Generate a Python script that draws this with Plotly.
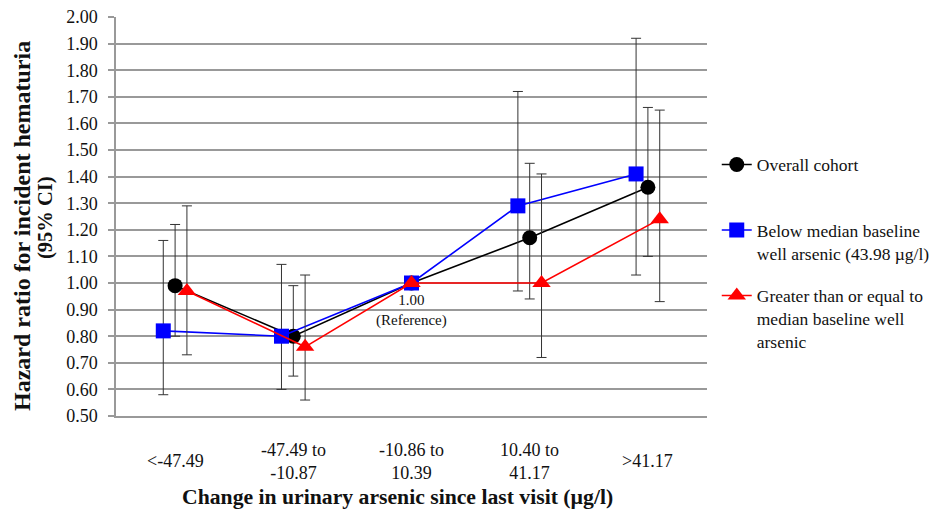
import plotly.graph_objects as go

categories = ["<-47.49", "-47.49 to<br>-10.87", "-10.86 to<br>10.39", "10.40 to<br>41.17", ">41.17"]

overall_hr = [0.99, 0.80, 1.00, 1.17, 1.36]
overall_lo = [0.80, 0.65, None, 0.94, 1.10]
overall_hi = [1.22, 0.99, None, 1.45, 1.66]

below_hr = [0.82, 0.80, 1.00, 1.29, 1.41]
below_lo = [0.58, 0.60, None, 0.97, 1.03]
below_hi = [1.16, 1.07, None, 1.72, 1.92]

above_hr = [0.97, 0.76, 1.00, 1.00, 1.24]
above_lo = [0.73, 0.56, None, 0.72, 0.93]
above_hi = [1.29, 1.03, None, 1.41, 1.65]

series_names = [
    "Overall cohort<br>\u00a0",
    "Below median baseline<br>well arsenic (43.98 µg/l)",
    "Greater than or equal to<br>median baseline well<br>arsenic",
]

x_title = "Change in urinary arsenic since last visit (µg/l)"
y_title_lines = ["Hazard ratio for incident hematuria", "(95% CI)"]

yticks = [round(0.5 + 0.1 * i, 2) for i in range(16)]

FONT = "Liberation Serif, Times New Roman, serif"
TXT = "#111111"

# figure geometry (page body adds an 8px offset)
W, H = 925, 501
L, R, T, B = 108, 226, 9, 93
PW, PH = W - L - R, H - T - B
OFF = 8

def px_x(sx):
    return (sx - OFF - L) / PW

def px_y(sy):
    return 1 - (sy - OFF - T) / PH

fig = go.Figure()

def add_series(name, hr, lo, hi, color, symbol, size, offset, group):
    xs = [i + (offset if lo[i] is not None else 0) for i in range(len(hr))]
    plus = [(hi[i] - hr[i]) if hi[i] is not None else 0 for i in range(len(hr))]
    minus = [(hr[i] - lo[i]) if lo[i] is not None else 0 for i in range(len(hr))]
    fig.add_trace(go.Scatter(
        x=xs, y=hr, name=name, mode="lines+markers", legendgroup=group,
        line=dict(color=color, width=1.6),
        marker=dict(color=color, symbol=symbol, size=size),
        error_y=dict(type="data", symmetric=False, array=plus, arrayminus=minus,
                     color="#333333", thickness=1, width=5),
    ))

add_series(series_names[0], overall_hr, overall_lo, overall_hi, "black", "circle", 15, 0.0, "g0")
add_series(series_names[1], below_hr, below_lo, below_hi, "#0000ff", "square", 15, -0.1, "g1")
add_series(series_names[2], above_hr, above_lo, above_hi, "#ff0000", "triangle-up", 16, 0.1, "g2")

# category labels (vertically centred like the original)
for i, c in enumerate(categories):
    fig.add_annotation(x=i, xref="x", y=0.5, yref="y", yshift=-45, text=c,
                       showarrow=False, font=dict(family=FONT, size=18, color=TXT),
                       xanchor="center", yanchor="middle")

fig.add_annotation(x=2, xref="x", y=1.00, yref="y", text="1.00<br>(Reference)",
                   showarrow=False, yanchor="top", yshift=-7,
                   font=dict(family=FONT, size=15, color=TXT))

# axis titles
fig.add_annotation(x=px_x(397.5), y=px_y(497), xref="paper", yref="paper",
                   text=f"<b>{x_title}</b>", showarrow=False,
                   xanchor="center", yanchor="middle",
                   font=dict(family=FONT, size=21.7, color=TXT))
fig.add_annotation(x=px_x(22), y=px_y(226), xref="paper", yref="paper",
                   text=f"<b>{y_title_lines[0]}</b>", showarrow=False, textangle=-90,
                   xanchor="center", yanchor="middle",
                   font=dict(family=FONT, size=24, color=TXT))
fig.add_annotation(x=px_x(45), y=px_y(218), xref="paper", yref="paper",
                   text=f"<b>{y_title_lines[1]}</b>", showarrow=False, textangle=-90,
                   xanchor="center", yanchor="middle",
                   font=dict(family=FONT, size=20.5, color=TXT))

fig.update_layout(
    width=W, height=H,
    margin=dict(l=L, r=R, t=T, b=B, autoexpand=False),
    paper_bgcolor="white", plot_bgcolor="white",
    font=dict(family=FONT, size=18, color=TXT),
    showlegend=True,
    legend=dict(x=1.0165, y=0.675, xanchor="left", yanchor="top", valign="top",
                font=dict(family=FONT, size=17.5, color=TXT),
                tracegroupgap=17, bgcolor="rgba(0,0,0,0)"),
    xaxis=dict(range=[-0.5, 4.5], showticklabels=False, showgrid=False,
               showline=True, linecolor="#999999", linewidth=1.5, ticks="",
               zeroline=False, automargin=False),
    yaxis=dict(range=[0.5, 2.0], tickvals=yticks, ticktext=[f"{v:.2f}" for v in yticks],
               showgrid=True, gridcolor="#999999", gridwidth=1.5,
               showline=True, linecolor="#999999", linewidth=1.5,
               ticks="outside", ticklen=6, tickcolor="#999999", tickwidth=1.5,
               ticklabelstandoff=7, automargin=False, ticklabeloverflow="allow",
               zeroline=False, tickfont=dict(family=FONT, size=18, color=TXT)),
)

fig.write_html("out.html")
